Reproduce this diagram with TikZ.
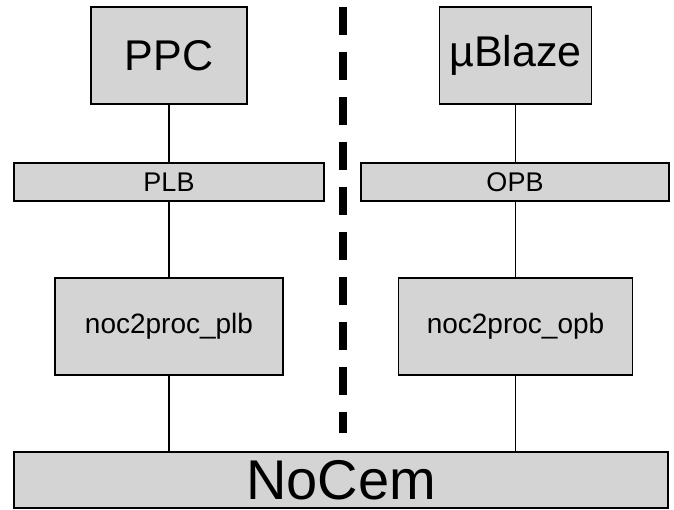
\documentclass[tikz,border=0pt]{standalone}
\usepackage{fontspec}
\setmainfont{Liberation Sans}
\definecolor{boxgray}{RGB}{212,212,212}
\begin{document}
\begin{tikzpicture}[x=1pt,y=-1pt,
  blk/.style={draw=black,fill=boxgray,line width=1.8pt,inner sep=0pt,rectangle},
  link/.style={draw=black,line width=1.5pt},
  divider/.style={draw=black,line width=8pt,dash pattern=on 28pt off 17pt}]
\useasboundingbox (0,0) rectangle (674,510);
\node[blk,minimum width=156pt,minimum height=97pt,font=\fontsize{43}{43}\selectfont] (ppc) at (169,55.5) {PPC};
\node[blk,minimum width=152pt,minimum height=97pt,font=\fontsize{43}{43}\selectfont] (mb) at (515.5,55.5) {µBlaze};
\node[blk,minimum width=310pt,minimum height=38pt,font=\fontsize{27}{27}\selectfont] (plb) at (169,182) {PLB};
\node[blk,minimum width=308pt,minimum height=38pt,font=\fontsize{27}{27}\selectfont] (opb) at (515,182) {OPB};
\node[blk,minimum width=228pt,minimum height=97pt,font=\fontsize{28}{28}\selectfont] (nplb) at (169,326.5) {noc2proc\_plb};
\node[blk,minimum width=234pt,minimum height=97pt,font=\fontsize{28}{28}\selectfont] (nopb) at (515.5,326.5) {noc2proc\_opb};
\node[blk,minimum width=654pt,minimum height=56pt,font=\fontsize{56}{56}\selectfont] (nocem) at (341,480) {NoCem};
\coordinate (dtop) at (343,7);
\coordinate (dbot) at (343,433);
\draw[link] (ppc.south) -- (ppc.south |- plb.north);
\draw[link] (plb.south) -- (plb.south |- nplb.north);
\draw[link] (nplb.south) -- (nplb.south |- nocem.north);
\draw[link] (mb.south) -- (mb.south |- opb.north);
\draw[link] (mb.south |- opb.south) -- (mb.south |- nopb.north);
\draw[link] (nopb.south) -- (nopb.south |- nocem.north);
\draw[divider] (dtop) -- (dbot);
\end{tikzpicture}
\end{document}
